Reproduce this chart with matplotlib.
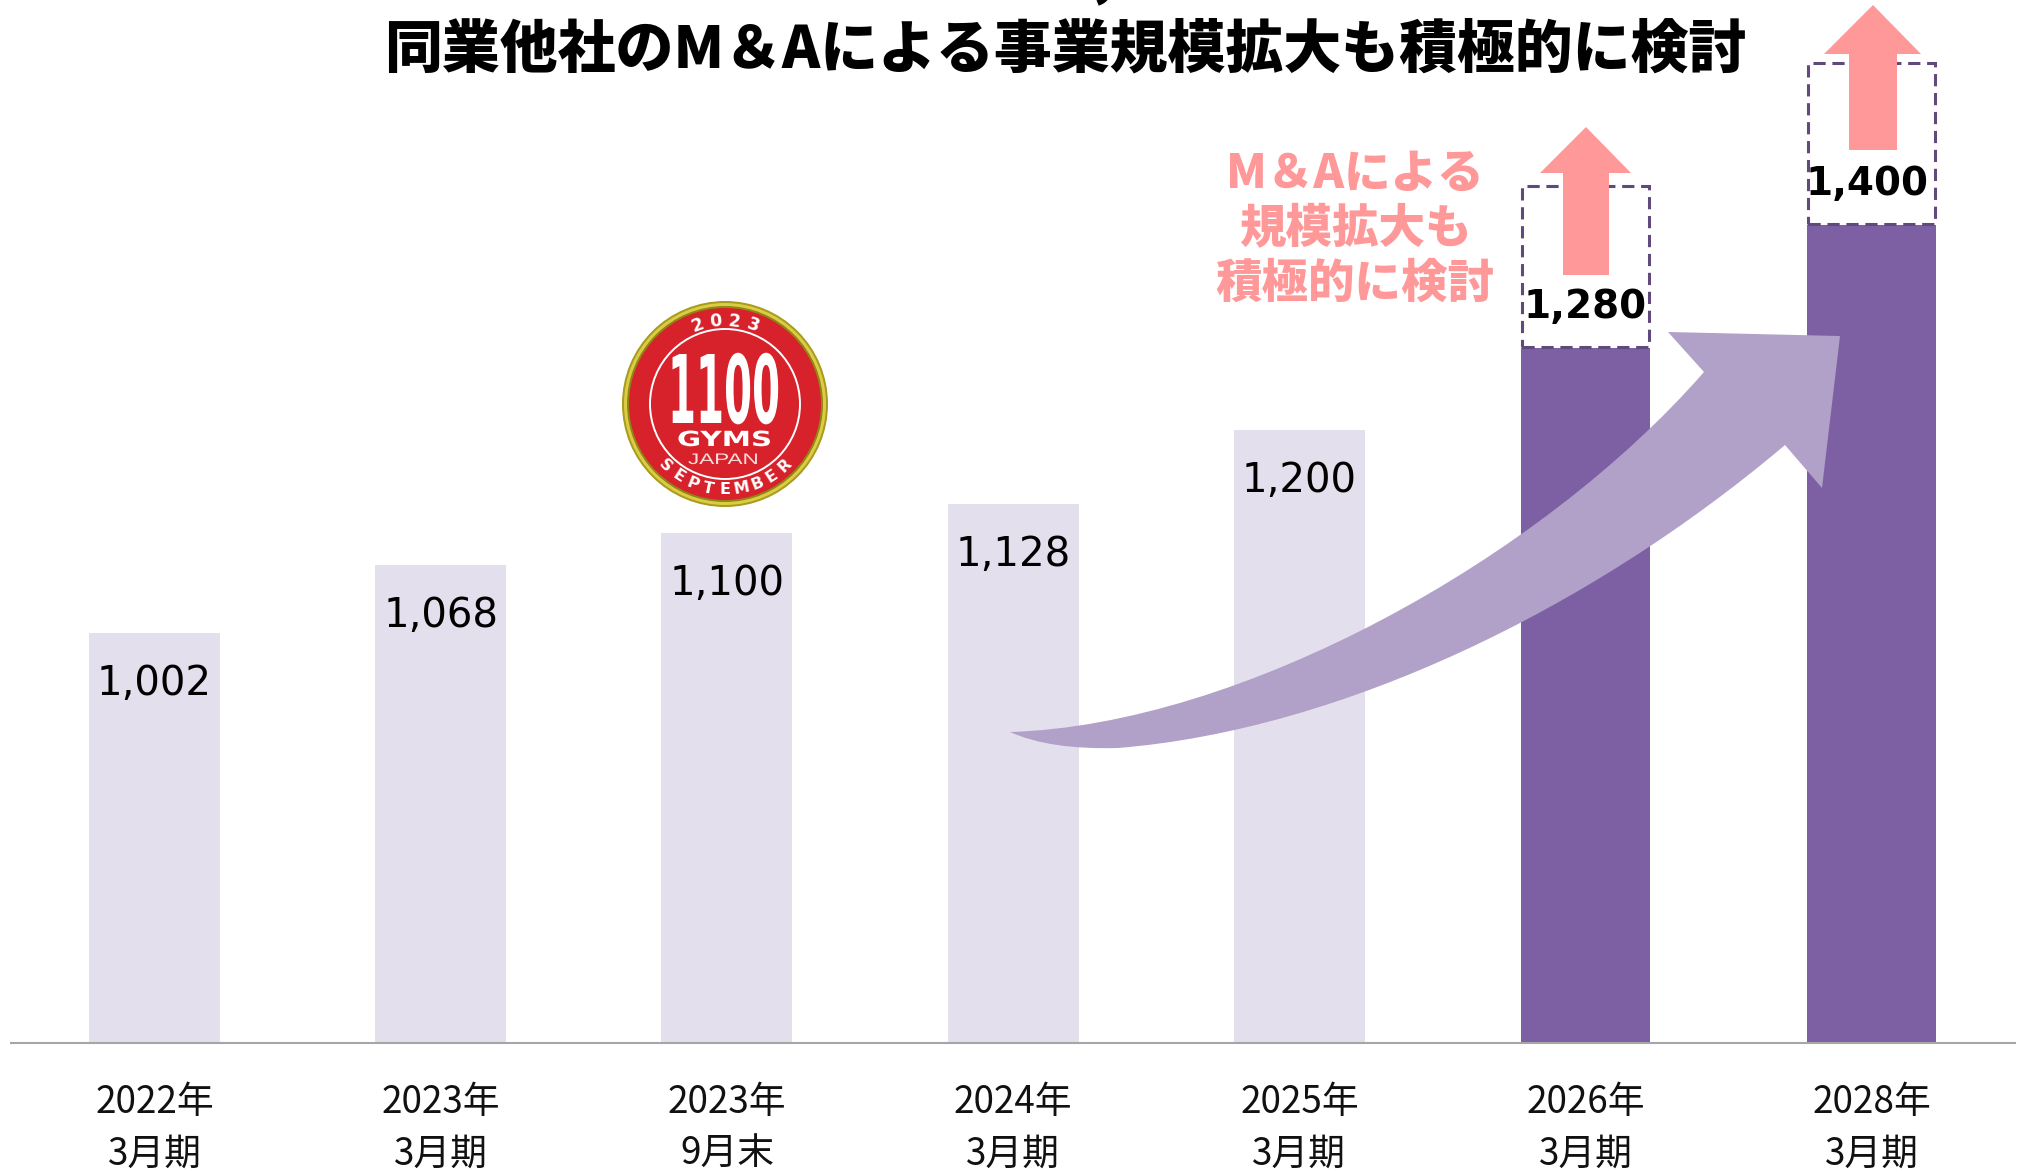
import numpy as np
import matplotlib
matplotlib.use("Agg")
import matplotlib.pyplot as plt
from matplotlib.patches import Circle, PathPatch, Rectangle, Polygon
from matplotlib.path import Path
from matplotlib.patheffects import AbstractPathEffect
from matplotlib.transforms import Affine2D

jp_font = ["Noto Sans CJK JP", "DejaVu Sans"]

# veriler
kategori_yil = ["2022年", "2023年", "2023年", "2024年", "2025年", "2026年", "2028年"]
kategori_ay = ["3月期", "3月期", "9月末", "3月期", "3月期", "3月期", "3月期"]
gercek = [1002, 1068, 1100, 1128, 1200]
hedef = [1280, 1400]

baslik_1 = "2028年3月期に向けて1,400店舗を目指す"
baslik_2 = "同業他社のM＆Aによる事業規模拡大も積極的に検討"
ma_satirlar = ["M＆Aによる", "規模拡大も", "積極的に検討"]

LIGHT = "#E4DFEC"
DARK = "#7D60A3"
ARROW = "#B1A0C7"
PINK = "#FF9999"
DASH = "#604A7B"
RED = "#D7222B"


class Esnet(AbstractPathEffect):
    # yaziyi gercek metin olarak birakip harfleri yatay/dikey esnetir
    def __init__(self, sx=1.0, sy=1.0):
        super().__init__()
        self.sx, self.sy = sx, sy

    def draw_path(self, renderer, gc, tpath, affine, rgbFace=None):
        yeni = Affine2D().scale(self.sx, self.sy) + affine
        renderer.draw_path(gc, tpath, yeni, rgbFace)


fig = plt.figure(figsize=(20.22, 11.72), dpi=100, facecolor="white")

# grafik ekseni: tum figuru kaplar, y ekseni 602'den baslar
ax = fig.add_axes([0, 0, 1, 1])
ax.set_xlim(-0.54, 6.525)
ax.set_ylim(476.6, 1619.4)
ax.axis("off")

x_gercek = np.arange(len(gercek))
x_hedef = np.arange(len(gercek), len(gercek) + len(hedef))
taban = 602

ax.bar(x_gercek, np.array(gercek) - taban, bottom=taban, width=0.458, color=LIGHT)
ax.bar(x_hedef, np.array(hedef) - taban, bottom=taban, width=0.45, color=DARK)
ax.plot([-0.505, 6.505], [taban, taban], color="#A6A6A6", lw=1.5, solid_capstyle="butt")

for x, v in zip(x_gercek, gercek):
    ax.annotate(f"{v:,}", (x, v), xytext=(0, -51), textcoords="offset pixels",
                ha="center", va="center", fontsize=29, color="black")
for x, v, dx in zip(x_hedef, hedef, [0, -5]):
    ax.add_patch(Rectangle((x - 0.222, v + 1), 0.444, 157, fill=False, ec=DASH,
                           lw=2.2, ls=(0, (4, 2.2)), zorder=3))
    ax.annotate(f"{v:,}", (x, v), xytext=(dx, 41), textcoords="offset pixels",
                ha="center", va="center", fontsize=28, fontweight="bold",
                color="black", zorder=5)

for x, yil, ay in zip(range(7), kategori_yil, kategori_ay):
    ax.text(x, 602 - 59 / 1.025, yil, ha="center", va="center", fontsize=26.5,
            family=jp_font, color="#111111")
    ax.text(x, 602 - 111 / 1.025, ay, ha="center", va="center", fontsize=26.5,
            family=jp_font, color="#111111")

# ustteki isaretler icin piksel ekseni
ov = fig.add_axes([0, 0, 1, 1])
ov.set_xlim(0, 2022)
ov.set_ylim(1172, 0)
ov.axis("off")
ov.patch.set_alpha(0)

# basliklar (ilk satir ustten kesilmis)
ov.text(1022, -26, baslik_1, ha="center", va="center", fontsize=41.7, fontweight="black",
        family=jp_font, color="black")
ov.text(1065, 50, baslik_2, ha="center", va="center", fontsize=41.7, fontweight="black",
        family=jp_font, color="black")

# pembe oklar
ov.add_patch(Polygon([(1586, 127), (1631, 173), (1609, 173), (1609, 275), (1563, 275),
                      (1563, 173), (1540, 173)], closed=True, fc=PINK, ec="none", zorder=2))
ov.add_patch(Polygon([(1873, 5), (1921, 54), (1897, 54), (1897, 150), (1849, 150),
                      (1849, 54), (1824, 54)], closed=True, fc=PINK, ec="none", zorder=2))

for y, s in zip([174, 230, 284], ma_satirlar):
    ov.text(1355, y, s, ha="center", va="center", fontsize=33.5, fontweight="black",
            family=jp_font, color=PINK)

# buyuk kavisli ok
verts = [(1010, 732), (1240, 725), (1540, 560), (1704, 372),
         (1668, 332), (1840, 336), (1822, 488), (1785, 445),
         (1590, 610), (1340, 730), (1118, 748),
         (1050, 750), (1010, 732), (1010, 732)]
codes = [Path.MOVETO, Path.CURVE4, Path.CURVE4, Path.CURVE4,
         Path.LINETO, Path.LINETO, Path.LINETO, Path.LINETO,
         Path.CURVE4, Path.CURVE4, Path.CURVE4,
         Path.CURVE3, Path.CURVE3, Path.CLOSEPOLY]
ov.add_patch(PathPatch(Path(verts, codes), fc=ARROW, ec="none", zorder=3))

# 1100 GYMS rozeti
cx, cy = 725, 404
ov.add_patch(Circle((cx, cy), 103, fc="#A79C1C", ec="none"))
ov.add_patch(Circle((cx, cy), 101, fc="#DCCB45", ec="none"))
ov.add_patch(Circle((cx, cy), 98, fc="#8F8714", ec="none"))
ov.add_patch(Circle((cx, cy), 96, fc=RED, ec="none"))
ov.add_patch(Circle((cx, cy), 75, fc="none", ec="white", lw=1.4))
ov.text(668, 423, "1100", ha="left", va="baseline", fontsize=29, fontweight="bold",
        family="DejaVu Sans", color="white", path_effects=[Esnet(1.0, 2.35)])
ov.plot([668, 780], [388, 388], color=RED, lw=0.8)
ov.text(677, 446, "GYMS", ha="left", va="baseline", fontsize=15, fontweight="bold",
        family="DejaVu Sans", color="white", path_effects=[Esnet(1.41, 1.0)])
ov.text(688, 464, "JAPAN", ha="left", va="baseline", fontsize=11,
        family="Liberation Sans", color="white", alpha=0.85, path_effects=[Esnet(1.47, 1.0)])


def yay_yazi(metin, r, adim, boyut, ust=True):
    # harfleri tek tek daire uzerine diz
    n = len(metin)
    for i, c in enumerate(metin):
        a = (i - (n - 1) / 2) * adim
        t = np.radians(a)
        if ust:
            px, py = cx + r * np.sin(t), cy - r * np.cos(t)
            rot = -a
        else:
            px, py = cx + r * np.sin(t), cy + r * np.cos(t)
            rot = a
        ov.text(px, py, c, ha="center", va="center", rotation=rot, rotation_mode="anchor",
                fontsize=boyut, fontweight="bold", family="DejaVu Sans", color="white")


yay_yazi("2023", 83, 13, 12.5, ust=True)
yay_yazi("SEPTEMBER", 86, 11, 11.5, ust=False)

fig.savefig("out.png", dpi=100)
